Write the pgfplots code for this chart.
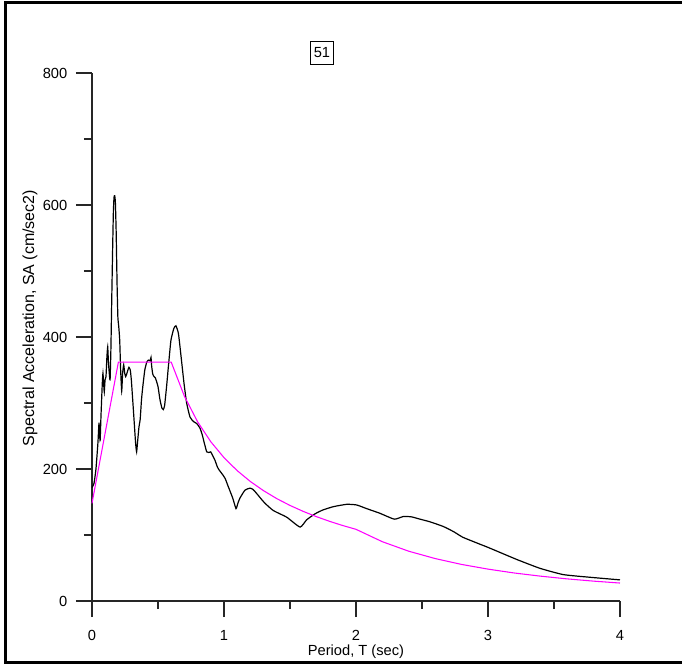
\documentclass[border=0pt]{standalone}
\usepackage{fontspec}
\setmainfont{Liberation Sans}
\usepackage{pgfplots}
\pgfplotsset{compat=1.18}
\definecolor{mag}{RGB}{255,0,255}
\begin{document}
\begin{tikzpicture}
\path[use as bounding box] (0pt,0pt) rectangle (511.5pt,498pt);
\draw[line width=2pt] (512pt,496.1pt) -- (4.1pt,496.1pt) -- (4.1pt,1.1pt) -- (512pt,1.1pt);
\begin{axis}[
  at={(69pt,47.25pt)}, anchor=south west,
  scale only axis, width=396pt, height=396pt,
  xmin=0, xmax=4, ymin=0, ymax=800,
  axis lines=left, axis line style={-, line width=0.8pt, black!85},
  tick style={line width=0.8pt, black!85},
  tick align=outside,
  major tick length=12pt, minor tick length=6pt,
  xtick={0,1,2,3,4}, minor xtick={0.5,1.5,2.5,3.5},
  ytick={0,200,400,600,800}, minor ytick={100,300,500,700},
  /pgf/number format/assume math mode=true,
  ticklabel style={font=\fontsize{11}{13}\selectfont},
  xticklabel style={yshift=-6.5pt},
  yticklabel style={xshift=-3pt},
  xlabel={Period, T (sec)},
  ylabel={Spectral Acceleration, SA (cm/sec2)},
  xlabel style={font=\fontsize{11}{13}\selectfont, at={(axis description cs:0.5,-0.0966)}, anchor=center},
  ylabel style={font=\fontsize{12}{14}\selectfont, at={(axis description cs:-0.1174,0.536)}, anchor=center},
  clip=false,
]
\addplot[black, line width=0.9pt, smooth, tension=0.3] coordinates {
(0.0,172) (0.015,178) (0.03,200) (0.045,240) (0.053,270) (0.058,250) (0.062,244)
(0.068,280) (0.078,330) (0.083,345) (0.088,330) (0.093,317) (0.099,335) (0.106,340)
(0.113,370) (0.119,385) (0.125,360) (0.131,345) (0.137,335) (0.143,380) (0.149,450)
(0.156,530) (0.162,590) (0.167,612) (0.172,614) (0.177,605) (0.183,560) (0.190,480)
(0.196,430) (0.203,415) (0.210,395) (0.217,350) (0.225,318) (0.232,345) (0.240,358)
(0.248,345) (0.255,340) (0.263,344) (0.272,350) (0.28,354) (0.29,350) (0.298,335)
(0.31,300) (0.32,270) (0.33,240) (0.338,226) (0.347,245) (0.356,264) (0.365,275)
(0.375,305) (0.385,325) (0.40,350) (0.415,362) (0.428,365) (0.44,364) (0.447,369)
(0.452,356) (0.46,344) (0.47,340) (0.48,338) (0.49,332) (0.50,325) (0.515,305)
(0.53,292) (0.54,290) (0.55,296) (0.565,325) (0.58,358) (0.598,395) (0.62,413)
(0.636,417) (0.655,405) (0.675,370) (0.697,330) (0.717,300) (0.742,279) (0.768,272)
(0.793,269) (0.818,262) (0.835,252) (0.85,240) (0.869,226) (0.885,225) (0.899,226)
(0.915,220) (0.932,213) (0.95,203) (0.965,198) (0.995,190) (1.01,185) (1.033,173)
(1.066,156) (1.091,140) (1.105,148) (1.121,156) (1.159,168) (1.197,171) (1.22,169)
(1.247,163) (1.28,155) (1.311,148) (1.374,137) (1.475,127) (1.576,112) (1.626,123)
(1.689,132) (1.75,138) (1.83,143) (1.93,146.5) (2.005,145.5) (2.08,140) (2.18,133)
(2.29,124) (2.358,128) (2.42,127.5) (2.485,124) (2.56,120) (2.66,113) (2.74,105)
(2.81,96.5) (2.94,86) (3.015,80) (3.217,63) (3.394,49.5) (3.57,40) (3.77,36) (4.0,32)
};
\addplot[mag, line width=0.8pt] coordinates {
(0,148) (0.2,362) (0.6,362) (0.7,310.3) (0.8,271.5) (0.9,241.3) (1.0,217.2)
(1.1,197.5) (1.2,181) (1.3,167.1) (1.4,155.1) (1.5,144.8) (1.6,135.8) (1.7,127.8)
(1.8,120.7) (1.9,114.3) (2.0,108.6) (2.2,89.8) (2.4,75.4) (2.6,64.3) (2.8,55.4)
(3.0,48.3) (3.2,42.4) (3.4,37.6) (3.6,33.5) (3.8,30.1) (4.0,27.2)
};
\node[draw, line width=0.7pt, minimum width=17pt, minimum height=17pt, inner sep=0pt,
  font=\fontsize{11}{13}\selectfont] at (axis description cs:0.4356,1.0379) {51};
\end{axis}
\end{tikzpicture}
\end{document}
